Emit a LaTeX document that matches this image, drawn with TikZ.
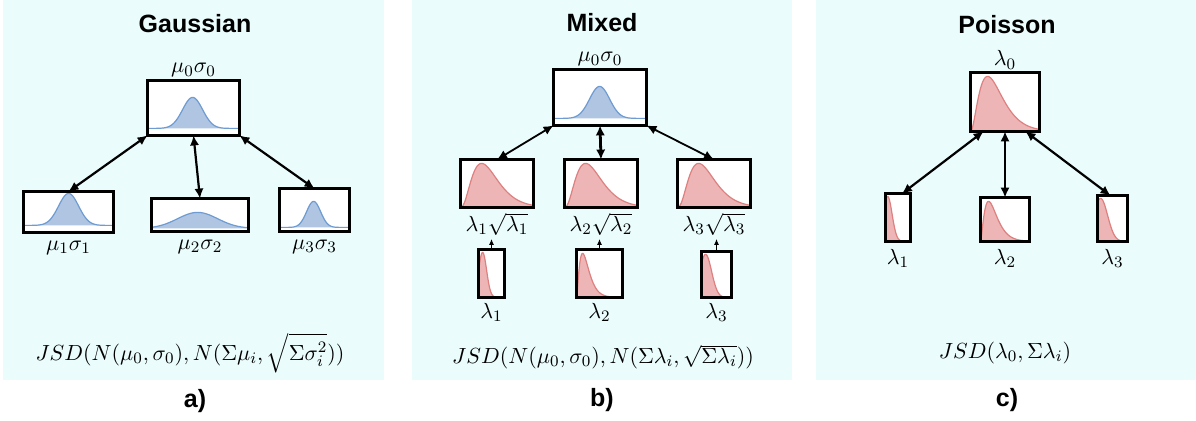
\documentclass[tikz,border=0pt]{standalone}
\usepackage{fontspec}
\usepackage{amsmath}
\usepackage{xcolor}
\usetikzlibrary{positioning, arrows.meta}
\newfontfamily\headfont{Liberation Sans}

\definecolor{panelbg}{RGB}{234,252,252}
\definecolor{gfill}{RGB}{175,197,226}
\definecolor{gline}{RGB}{110,155,210}
\definecolor{pfill}{RGB}{237,181,181}
\definecolor{pline}{RGB}{222,128,128}

\tikzset{
	box/.style={fill=white, inner sep=0pt},
	frame/.style={line width=1.3pt},
	lbl/.style={inner sep=1.5pt, font=\fontsize{11}{13}\selectfont},
	head/.style={font=\headfont\bfseries\fontsize{12.5}{15}\selectfont},
	link/.style={{Latex[length=5pt,width=4.6pt]}-{Latex[length=5pt,width=4.6pt]}, line width=1.1pt},
	feed/.style={-{Latex[length=3pt,width=2.6pt]}, line width=0.5pt},
	curve/.style={line width=0.6pt},
}

\begin{document}
\begin{tikzpicture}[x=0.5pt, y=-0.5pt]

	\useasboundingbox (0,0) rectangle (1196,421);

	\fill[panelbg] (3,0) rectangle (384,380);
	\fill[panelbg] (412,0) rectangle (792,380);
	\fill[panelbg] (816,0) rectangle (1196,380);

	% Gaussian
	\node[head] (ta) at (195,24) {Gaussian};
	\node[box, minimum width=45.5pt, minimum height=27pt] (ga0) at (193.5,108) {};
	\node[box, minimum width=44.5pt, minimum height=20pt] (ga1) at (68.5,212) {};
	\node[box, minimum width=48pt, minimum height=16pt] (ga2) at (200,215) {};
	\node[box, minimum width=34.5pt, minimum height=21pt] (ga3) at (314.5,210) {};

	\node[lbl, above=0pt of ga0] (la0) {$\mu_0\sigma_0$};
	\node[lbl, below=2.5pt of ga1] (la1) {$\mu_1\sigma_1$};
	\node[lbl, below=2.5pt of ga2] (la2) {$\mu_2\sigma_2$};
	\node[lbl, below=2.5pt of ga3] (la3) {$\mu_3\sigma_3$};

	\draw[link] (ga0.south west) -- (ga1.north);
	\draw[link] (ga0.south) -- (ga2.north);
	\draw[link] (ga0.south east) -- (ga3.north);

	\node[lbl] (fa) at (190,353) {$JSD(N(\mu_0,\sigma_0),N(\Sigma\mu_i,\sqrt{\Sigma\sigma_i^2}))$};
	\node[head] (ca) at (195,401) {a)};

	% Mixed
	\node[head] (tb) at (602,23) {Mixed};
	\node[box, minimum width=46pt, minimum height=27.5pt] (gb0) at (600,97.5) {};
	\node[box, minimum width=36pt, minimum height=23.5pt] (gb1) at (497,183.5) {};
	\node[box, minimum width=36pt, minimum height=23.5pt] (gb2) at (601,183.5) {};
	\node[box, minimum width=36pt, minimum height=23.5pt] (gb3) at (714,183.5) {};
	\node[box, minimum width=12.5pt, minimum height=23.5pt] (gb4) at (491.5,273.5) {};
	\node[box, minimum width=22.5pt, minimum height=23.5pt] (gb5) at (599.5,273.5) {};
	\node[box, minimum width=14.5pt, minimum height=22.5pt] (gb6) at (716.5,274.5) {};

	\node[lbl, above=0pt of gb0] (lb0) {$\mu_0\sigma_0$};
	\node[lbl, below=1pt of gb1] (lb1) {$\lambda_1\sqrt{\lambda_1}$};
	\node[lbl, below=1pt of gb2] (lb2) {$\lambda_2\sqrt{\lambda_2}$};
	\node[lbl, below=1pt of gb3] (lb3) {$\lambda_3\sqrt{\lambda_3}$};
	\node[lbl, below=1pt of gb4] (lb4) {$\lambda_1$};
	\node[lbl, below=1pt of gb5] (lb5) {$\lambda_2$};
	\node[lbl, below=1pt of gb6] (lb6) {$\lambda_3$};

	\draw[link, line width=0.9pt] (gb0.south west) -- (gb1.north);
	\draw[link, line width=1.4pt] (gb0.south) -- (gb2.north);
	\draw[link, line width=0.9pt] (gb0.south east) -- (gb3.north);
	\draw[feed] (gb4.north) -- (gb4.north |- lb1.south);
	\draw[feed] (gb5.north) -- (gb5.north |- lb2.south);
	\draw[feed] (gb6.north) -- (gb6.north |- lb3.south);

	\node[lbl] (fb) at (603,357) {$JSD(N(\mu_0,\sigma_0),N(\Sigma\lambda_i,\sqrt{\Sigma\lambda_i}))$};
	\node[head] (cb) at (602,400) {b)};

	% Poisson
	\node[head] (tc) at (1007,25) {Poisson};
	\node[box, minimum width=34pt, minimum height=29pt] (gc0) at (1005,102) {};
	\node[box, minimum width=12pt, minimum height=23.5pt] (gc1) at (898,217.5) {};
	\node[box, minimum width=24pt, minimum height=21.5pt] (gc2) at (1005,219.5) {};
	\node[box, minimum width=14.5pt, minimum height=22.5pt] (gc3) at (1112.5,218.5) {};

	\node[lbl, above=0pt of gc0] (lc0) {$\lambda_0$};
	\node[lbl, below=2pt of gc1] (lc1) {$\lambda_1$};
	\node[lbl, below=2pt of gc2] (lc2) {$\lambda_2$};
	\node[lbl, below=2pt of gc3] (lc3) {$\lambda_3$};

	\draw[link] ([xshift=6.5pt]gc0.south west) -- ([xshift=2pt]gc1.north);
	\draw[link] (gc0.south) -- (gc2.north);
	\draw[link] ([xshift=-7pt]gc0.south east) -- ([xshift=-1pt]gc3.north);

	\node[lbl] (fc) at (1005,353) {$JSD(\lambda_0,\Sigma\lambda_i)$};
	\node[head] (cc) at (1007,400) {c)};

	% bell curves: box / width / centre / sigma / height / baseline / fill / line
	\foreach \n/\w/\c/\s/\h/\b/\f/\l in {ga0/91/45/10/31/7/gfill/gline, ga1/89/45/10/32/7/gfill/gline,
		ga2/96/46/20/16/3/gfill/gline, ga3/69/34/7/26/4/gfill/gline, gb0/92/46/10/32/7/gfill/gline,
		gb4/25/4/4/45/0/pfill/pline, gb6/29/4/6/43/0/pfill/pline,
		gc1/24/2/4.5/45/0/pfill/pline, gc3/29/3/7/43/0/pfill/pline} {
		\begin{scope}[shift={(\n.south west)}]
			\fill[\f] (0,-\b) -- plot[domain=0:\w,samples=80] (\x,{-\b-\h*exp(-0.5*((\x-\c)/\s)^2)}) -- (\w,-\b) -- cycle;
			\draw[\l, curve] plot[domain=0:\w,samples=80] (\x,{-\b-\h*exp(-0.5*((\x-\c)/\s)^2)});
		\end{scope}
	}

	% skewed curves: box / width / peak / height / shape
	\foreach \n/\w/\p/\h/\a in {gb1/72/21/44/2.5, gb2/72/21/44/2.5, gb3/72/21/44/2.5,
		gb5/45/6/44/1.5, gc0/68/17/55/2, gc2/48/8/40/1.5} {
		\begin{scope}[shift={(\n.south west)}]
			\fill[pfill] (0,0) -- plot[domain=0.1:\w,samples=80] (\x,{-\h*((\x/\p)^\a)*exp(\a*(1-\x/\p))}) -- (\w,0) -- cycle;
			\draw[pline, curve] plot[domain=0.1:\w,samples=80] (\x,{-\h*((\x/\p)^\a)*exp(\a*(1-\x/\p))});
		\end{scope}
	}

	\foreach \n in {ga0,ga1,ga2,ga3,gb0,gb1,gb2,gb3,gb4,gb5,gb6,gc0,gc1,gc2,gc3}
		\draw[frame] (\n.south west) rectangle (\n.north east);

\end{tikzpicture}
\end{document}
